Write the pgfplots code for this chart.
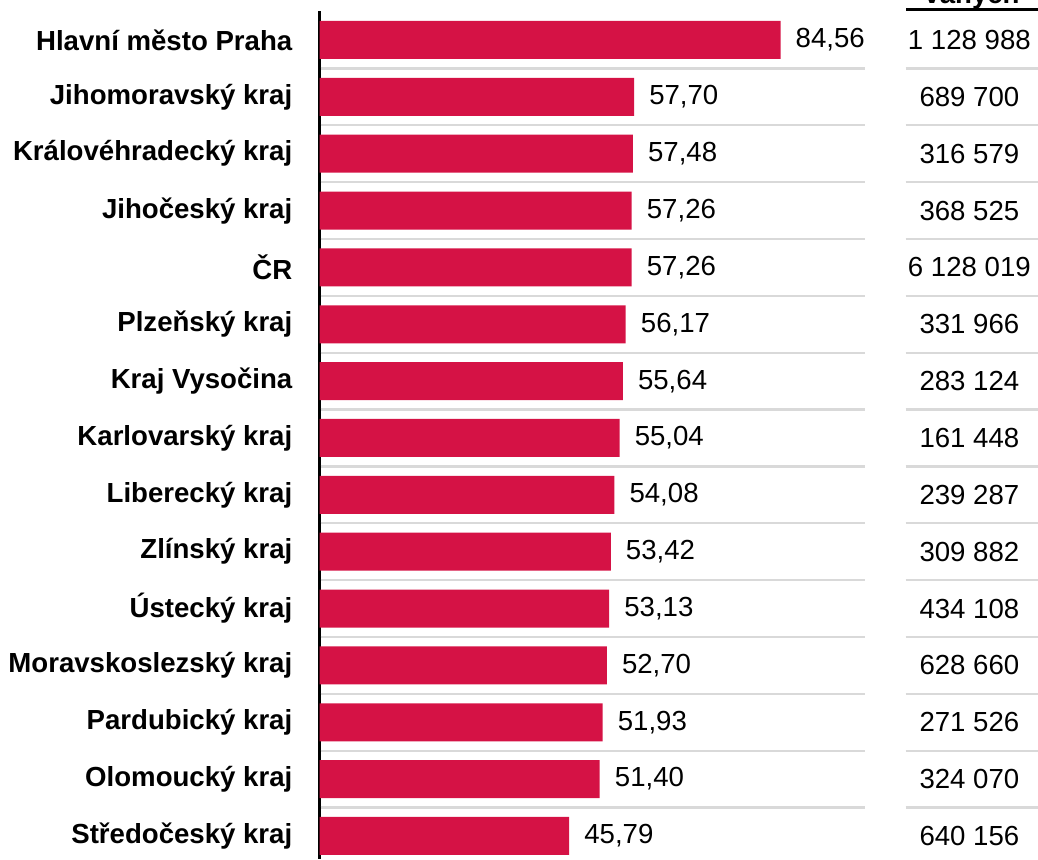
\documentclass[border=0pt]{standalone}
\usepackage{fontspec}
\setmainfont{Liberation Sans}
\usepackage{pgfplots}
\pgfplotsset{compat=1.18}
\definecolor{barred}{HTML}{D51245}
\definecolor{sepgray}{HTML}{D9D9D9}

\begin{document}
\begin{tikzpicture}[x=1pt,y=1pt]
\useasboundingbox (0,0) rectangle (1038,859);
% header of the right column, cut off by the top edge
\begin{scope}
\clip (0,0) rectangle (1038,859);
\node[font=\bfseries\fontsize{27.6}{30}\selectfont, anchor=base, inner sep=0pt] at (972,855) {vaných};
\end{scope}
\draw[line width=3pt] (906,849) -- (1038,849);
\begin{axis}[
  at={(319.5pt,0pt)}, anchor=south west,
  scale only axis, width=545.2pt, height=848pt,
  xmin=0, xmax=100, ymin=0.49, ymax=15.405, y dir=reverse,
  axis x line=none, axis y line*=left,
  axis line style={line width=2.2pt},
  ytick={1,...,15},
  yticklabels={Hlavní město Praha, Jihomoravský kraj, Královéhradecký kraj, Jihočeský kraj, ČR,
    Plzeňský kraj, Kraj Vysočina, Karlovarský kraj, Liberecký kraj, Zlínský kraj, Ústecký kraj,
    Moravskoslezský kraj, Pardubický kraj, Olomoucký kraj, Středočeský kraj},
  major tick length=0pt,
  yticklabel style={font=\bfseries\fontsize{27.6}{30}\selectfont, anchor=east, inner sep=0pt, xshift=-27pt},
  clip=false,
  point meta=explicit symbolic,
]
\pgfplotsinvokeforeach{1.5,2.5,...,14.5}{
  \draw[sepgray, line width=2.2pt] (axis cs:0.2,#1) -- (axis cs:100,#1);
  \draw[sepgray, line width=2.2pt] (axis cs:107.5,#1) -- (axis cs:131.7,#1);
}
\addplot[xbar, bar width=38pt, fill=barred, draw=none,
  nodes near coords={\pgfplotspointmeta},
  nodes near coords style={font=\fontsize{27.6}{30}\selectfont, anchor=west, inner sep=0pt, xshift=15pt}]
coordinates {
  (84.56,1) [84,56]
  (57.70,2) [57,70]
  (57.48,3) [57,48]
  (57.26,4) [57,26]
  (57.26,5) [57,26]
  (56.17,6) [56,17]
  (55.64,7) [55,64]
  (55.04,8) [55,04]
  (54.08,9) [54,08]
  (53.42,10) [53,42]
  (53.13,11) [53,13]
  (52.70,12) [52,70]
  (51.93,13) [51,93]
  (51.40,14) [51,40]
  (45.79,15) [45,79]
};
\addplot[draw=none, mark=none,
  nodes near coords={\pgfplotspointmeta},
  nodes near coords style={font=\fontsize{27.6}{30}\selectfont, anchor=center, inner sep=0pt}]
coordinates {
  (119.2,1) [1 128 988]
  (119.2,2) [689 700]
  (119.2,3) [316 579]
  (119.2,4) [368 525]
  (119.2,5) [6 128 019]
  (119.2,6) [331 966]
  (119.2,7) [283 124]
  (119.2,8) [161 448]
  (119.2,9) [239 287]
  (119.2,10) [309 882]
  (119.2,11) [434 108]
  (119.2,12) [628 660]
  (119.2,13) [271 526]
  (119.2,14) [324 070]
  (119.2,15) [640 156]
};
\end{axis}
\end{tikzpicture}
\end{document}
